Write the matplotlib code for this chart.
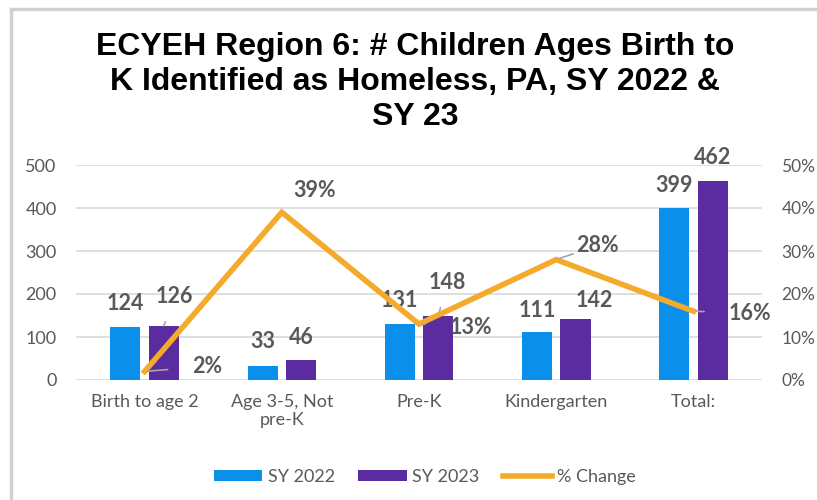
import matplotlib.pyplot as plt
from matplotlib.patches import Rectangle
import numpy as np

plt.rcParams['font.family'] = ['Lato', 'DejaVu Sans']

categories = ['Birth to age 2', 'Age 3-5, Not\npre-K', 'Pre-K', 'Kindergarten', 'Total:']
sy2022 = [124, 33, 131, 111, 399]
sy2023 = [126, 46, 148, 142, 462]
pct_change = [0.02, 0.39, 0.13, 0.28, 0.16]
pct_labels = ['2%', '39%', '13%', '28%', '16%']

blue = '#0A8FEA'
purple = '#5B2C9F'
orange = '#F4AA2B'
gray = '#595959'

fig = plt.figure(figsize=(8.17, 5), dpi=100)
fig.patches.append(Rectangle((11 / 817, -0.1), 1.2, 1 - 9 / 500 + 0.1, transform=fig.transFigure,
                             fill=False, edgecolor='#D0D0D0', lw=2.5))

ax = fig.add_axes([76 / 817, 0.24, 686 / 817, 0.43])
x = np.arange(len(categories))
w = 0.22
off = 0.14

b1 = ax.bar(x - off, sy2022, w, color=blue, label='SY 2022', zorder=2)
b2 = ax.bar(x + off, sy2023, w, color=purple, label='SY 2023', zorder=2)

ax.set_xlim(-0.5, 4.5)
ax.set_ylim(0, 500)
ax.set_yticks(range(0, 501, 100))
ax.set_xticks(x)
ax.set_xticklabels(categories, color=gray, fontsize=13)
ax.tick_params(axis='both', length=0, labelcolor=gray, labelsize=13)
ax.tick_params(axis='y', pad=14)
ax.tick_params(axis='x', pad=10)
ax.grid(axis='y', color='#D9D9D9', lw=1.2, zorder=0)
for s in ax.spines.values():
    s.set_visible(False)

ax2 = ax.twinx()
line, = ax2.plot(x, pct_change, color=orange, lw=4, label='% Change', zorder=3,
                 solid_joinstyle='miter')
ax2.set_ylim(0, 0.5)
ax2.set_yticks(np.arange(0, 0.51, 0.1))
ax2.set_yticklabels([f'{int(round(v * 100))}%' for v in np.arange(0, 0.51, 0.1)])
ax2.tick_params(axis='y', length=0, labelcolor=gray, labelsize=12.5, pad=14)
for s in ax2.spines.values():
    s.set_visible(False)

lab = dict(fontsize=15.5, fontweight='bold', color=gray, ha='center', va='center',
           textcoords='offset pixels')
lead = dict(arrowstyle='-', color='#A6A6A6', lw=1.2, shrinkA=9, shrinkB=0)

# bar value labels (pixel offsets from bar top)
off2022 = [(0, 23), (0, 24), (0, 23), (0, 22), (0, 23)]
off2023 = [(11, 29), (0, 23), (9, 34), (19, 18), (0, 24)]
leader2023 = [True, False, True, False, False]
for i in range(len(categories)):
    ax.annotate(str(sy2022[i]), (x[i] - off, sy2022[i]), xytext=off2022[i], **lab, zorder=5)
    ap = lead if leader2023[i] else None
    ax.annotate(str(sy2023[i]), (x[i] + off, sy2023[i]), xytext=off2023[i], arrowprops=ap,
                **lab, zorder=5)

# % change labels
offpct = [(63, 5), (33, 22), (52, -3), (41, 14), (57, -2)]
leaderpct = [True, False, True, True, True]
for i in range(len(categories)):
    ap = dict(lead, shrinkA=16, shrinkB=2) if leaderpct[i] else None
    ax2.annotate(pct_labels[i], (x[i], pct_change[i]), xytext=offpct[i], arrowprops=ap,
                 **lab, zorder=5)

fig.text(0.508, 0.935, 'ECYEH Region 6: # Children Ages Birth to\n'
         'K Identified as Homeless, PA, SY 2022 &\nSY 23',
         ha='center', va='top', fontsize=23, fontweight='bold',
         family='Liberation Sans', linespacing=1.2)

fig.legend(handles=[b1, b2, line], loc='center', bbox_to_anchor=(0.52, 0.046), ncol=3,
           frameon=False, fontsize=13, labelcolor=gray, handlelength=2.7, handleheight=0.6,
           handletextpad=0.3, columnspacing=1.3)

fig.savefig('out.png', dpi=100)
